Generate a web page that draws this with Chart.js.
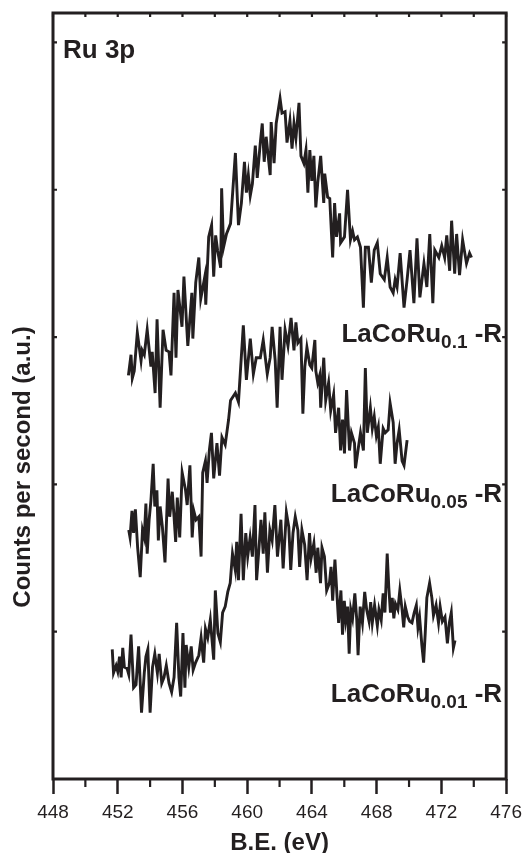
<!DOCTYPE html>
<html>
<head>
<meta charset="utf-8">
<script src="https://cdn.jsdelivr.net/npm/chart.js@4.4.1/dist/chart.umd.min.js"></script>
<style>
  html, body { margin: 0; padding: 0; background: #fff; }
  #wrap { width: 529px; height: 853px; position: relative; }
</style>
</head>
<body>
<div id="wrap"><canvas id="xps"></canvas></div>
<script>
// Ru 3p region, three reduced samples, offset vertically (a.u.)
const xMajorTicks = [448, 452, 456, 460, 464, 468, 472, 476];
const xMinorTicks = [450, 454, 458, 462, 466, 470, 474];
const yTicks = [1, 2, 3, 4, 5];

const sampleBase = 'LaCoRu';
const sampleRu = ['0.1', '0.05', '0.01'];
const sampleSuffix = ' -R';

// LaCoRu0.1-R
const ru01E = [
  452.66, 452.82, 452.90, 453.02, 453.21, 453.44, 453.51, 453.64, 453.82, 454.05,
  454.13, 454.31, 454.43, 454.62, 454.80, 454.99, 455.17, 455.29, 455.48, 455.60,
  455.72, 455.97, 456.09, 456.33, 456.58, 456.64, 456.82, 457.01, 457.13, 457.38,
  457.44, 457.62, 457.80, 457.93, 458.05, 458.17, 458.36, 458.42, 458.54, 458.72,
  458.97, 459.27, 459.46, 459.64, 459.83, 459.95, 460.07, 460.19, 460.32, 460.50,
  460.62, 460.81, 460.93, 461.05, 461.17, 461.42, 461.48, 461.66, 461.79, 462.03,
  462.15, 462.34, 462.46, 462.64, 462.77, 462.89, 463.01, 463.20, 463.32, 463.50,
  463.63, 463.75, 463.87, 463.99, 464.12, 464.24, 464.36, 464.54, 464.73, 464.79,
  464.97, 465.10, 465.28, 465.40, 465.52, 465.71, 465.77, 466.01, 466.20, 466.38,
  466.51, 466.63, 466.81, 467.00, 467.18, 467.30, 467.49, 467.67, 467.85, 468.04,
  468.22, 468.47, 468.65, 468.83, 469.02, 469.14, 469.26, 469.45, 469.69, 469.88,
  470.06, 470.30, 470.49, 470.67, 470.92, 471.10, 471.28, 471.47, 471.59, 471.84,
  472.02, 472.20, 472.33, 472.51, 472.63, 472.82, 472.94, 473.12, 473.31, 473.55,
  473.74, 473.86
];
const ru01Counts = [
  2.74, 2.88, 2.72, 2.77, 3.03, 2.84, 2.91, 2.88, 3.05, 2.80,
  2.90, 2.62, 3.12, 2.52, 3.05, 2.91, 2.90, 2.74, 3.30, 2.86,
  3.32, 3.07, 3.41, 2.94, 3.30, 2.99, 3.37, 3.54, 3.26, 3.41,
  3.22, 3.68, 3.76, 3.41, 3.69, 3.59, 3.47, 4.01, 3.61, 3.70,
  3.77, 4.25, 3.76, 3.91, 4.19, 3.98, 4.10, 3.96, 4.04, 4.30,
  4.08, 4.32, 4.45, 4.19, 4.36, 4.10, 4.46, 4.18, 4.45, 4.62,
  4.52, 4.53, 4.32, 4.47, 4.28, 4.45, 4.35, 4.59, 4.23, 4.18,
  4.27, 3.98, 4.27, 4.06, 4.23, 3.88, 4.05, 4.23, 3.91, 4.11,
  3.95, 3.94, 3.54, 3.91, 3.68, 3.84, 3.64, 3.68, 4.00, 3.66,
  3.72, 3.66, 3.68, 3.61, 3.20, 3.61, 3.61, 3.37, 3.59, 3.64,
  3.43, 3.39, 3.54, 3.34, 3.30, 3.39, 3.34, 3.57, 3.20, 3.39,
  3.59, 3.23, 3.67, 3.27, 3.50, 3.34, 3.70, 3.23, 3.59, 3.54,
  3.62, 3.54, 3.69, 3.45, 3.79, 3.43, 3.70, 3.42, 3.66, 3.50,
  3.57, 3.54
];

// LaCoRu0.05-R
const ru005E = [
  452.68, 452.76, 452.88, 452.98, 453.09, 453.23, 453.39, 453.53, 453.64, 453.74,
  453.82, 453.94, 454.05, 454.19, 454.29, 454.42, 454.51, 454.62, 454.76, 454.92,
  455.11, 455.21, 455.37, 455.48, 455.58, 455.68, 455.83, 455.98, 456.19, 456.29,
  456.46, 456.60, 456.70, 456.84, 457.01, 457.15, 457.25, 457.42, 457.52, 457.66,
  457.79, 457.93, 458.13, 458.29, 458.44, 458.64, 458.85, 458.97, 459.27, 459.46,
  459.76, 459.95, 460.19, 460.38, 460.56, 460.81, 460.99, 461.24, 461.42, 461.54,
  461.73, 461.85, 462.03, 462.15, 462.34, 462.52, 462.71, 462.89, 463.01, 463.13,
  463.32, 463.44, 463.56, 463.69, 463.87, 463.99, 464.18, 464.24, 464.36, 464.48,
  464.54, 464.73, 464.85, 465.03, 465.16, 465.34, 465.46, 465.65, 465.77, 465.89,
  466.01, 466.14, 466.32, 466.44, 466.63, 466.69, 466.87, 467.00, 467.18, 467.30,
  467.42, 467.61, 467.73, 467.85, 467.98, 468.10, 468.22, 468.40, 468.53, 468.71,
  468.83, 469.02, 469.14, 469.26, 469.39, 469.57, 469.69, 469.88
];
const ru005Counts = [
  1.69, 1.64, 1.82, 1.67, 1.83, 1.57, 1.37, 1.69, 1.64, 1.87,
  1.53, 1.76, 1.89, 2.14, 1.85, 1.96, 1.62, 1.85, 1.71, 1.47,
  2.04, 1.78, 1.95, 1.78, 1.61, 1.91, 1.64, 2.08, 1.96, 1.86,
  2.13, 1.64, 1.82, 1.76, 1.78, 1.51, 2.08, 2.16, 2.01, 2.23,
  2.35, 2.04, 2.28, 2.06, 2.32, 2.27, 2.44, 2.57, 2.62, 2.56,
  3.08, 2.71, 2.99, 2.75, 2.86, 2.86, 2.98, 2.75, 2.86, 3.07,
  2.84, 2.52, 3.07, 2.71, 3.05, 2.94, 3.13, 2.91, 3.10, 2.96,
  2.99, 2.48, 2.80, 2.93, 2.81, 2.79, 2.98, 2.77, 2.69, 2.74,
  2.52, 2.86, 2.57, 2.69, 2.50, 2.61, 2.35, 2.52, 2.23, 2.44,
  2.21, 2.64, 2.23, 2.35, 2.28, 2.11, 2.25, 2.35, 2.23, 2.79,
  2.35, 2.52, 2.38, 2.46, 2.33, 2.39, 2.14, 2.38, 2.35, 2.37,
  2.55, 2.42, 2.14, 2.28, 2.37, 2.16, 2.13, 2.30
];

// LaCoRu0.01-R
const ru001E = [
  451.66, 451.74, 451.90, 452.00, 452.11, 452.21, 452.31, 452.41, 452.58, 452.68,
  452.82, 452.98, 453.13, 453.29, 453.47, 453.64, 453.74, 453.86, 454.00, 454.15,
  454.29, 454.45, 454.56, 454.72, 454.86, 455.00, 455.17, 455.33, 455.48, 455.64,
  455.78, 455.89, 456.03, 456.15, 456.23, 456.39, 456.54, 456.66, 456.81, 457.01,
  457.15, 457.31, 457.42, 457.56, 457.72, 457.93, 458.03, 458.19, 458.34, 458.48,
  458.64, 458.80, 458.95, 459.09, 459.26, 459.35, 459.46, 459.62, 459.76, 459.91,
  460.03, 460.18, 460.32, 460.48, 460.58, 460.73, 460.85, 460.99, 461.09, 461.25,
  461.40, 461.54, 461.71, 461.87, 462.08, 462.22, 462.42, 462.57, 462.69, 462.83,
  462.97, 463.13, 463.24, 463.38, 463.55, 463.70, 463.85, 463.95, 464.12, 464.26,
  464.36, 464.53, 464.62, 464.77, 464.91, 465.08, 465.18, 465.28, 465.42, 465.54,
  465.65, 465.79, 465.89, 466.00, 466.09, 466.20, 466.30, 466.40, 466.51, 466.65,
  466.77, 466.85, 466.98, 467.12, 467.26, 467.38, 467.53, 467.63, 467.73, 467.87,
  468.04, 468.14, 468.28, 468.40, 468.51, 468.65, 468.75, 468.85, 468.96, 469.06,
  469.16, 469.31, 469.43, 469.57, 469.67, 469.77, 469.92, 470.04, 470.18, 470.32,
  470.45, 470.55, 470.65, 470.79, 470.90, 471.00, 471.10, 471.27, 471.41, 471.51,
  471.67, 471.82, 471.92, 472.06, 472.22, 472.37, 472.49, 472.61, 472.74, 472.84
];
const ru001Counts = [
  0.88, 0.72, 0.77, 0.73, 0.83, 0.69, 0.89, 0.76, 0.75, 0.71,
  0.98, 0.62, 0.64, 0.90, 0.45, 0.72, 0.83, 0.88, 0.45, 0.76,
  0.85, 0.72, 0.85, 0.65, 0.69, 0.77, 0.65, 0.59, 0.69, 1.06,
  0.69, 0.56, 0.99, 0.62, 0.91, 0.76, 0.90, 0.74, 0.79, 0.84,
  0.96, 0.79, 1.02, 0.96, 1.08, 0.81, 1.28, 0.99, 0.93, 1.13,
  1.17, 1.27, 1.33, 1.53, 1.42, 1.61, 1.35, 1.80, 1.35, 1.67,
  1.51, 1.64, 1.51, 1.86, 1.35, 1.57, 1.76, 1.53, 1.81, 1.40,
  1.69, 1.62, 1.86, 1.51, 1.76, 1.43, 1.81, 1.71, 1.42, 1.67,
  1.78, 1.69, 1.44, 1.69, 1.59, 1.35, 1.67, 1.50, 1.60, 1.40,
  1.57, 1.33, 1.57, 1.51, 1.28, 1.33, 1.44, 1.21, 1.49, 1.26,
  1.06, 1.28, 0.98, 1.21, 1.08, 1.17, 0.85, 1.15, 1.09, 1.26,
  1.08, 0.84, 1.17, 1.06, 1.27, 1.15, 1.07, 1.20, 1.06, 1.18,
  1.04, 1.15, 1.08, 1.26, 1.13, 1.53, 1.30, 1.13, 1.23, 1.09,
  1.19, 1.15, 1.28, 1.15, 1.03, 1.17, 1.10, 1.07, 1.06, 1.13,
  1.18, 1.03, 1.10, 0.91, 0.79, 0.99, 1.23, 1.33, 1.23, 1.11,
  1.18, 1.06, 1.17, 1.07, 1.10, 0.92, 1.06, 1.13, 0.89, 0.94
];

const INK = '#231f20';
const FONT = '"Liberation Sans", Arial, Helvetica, sans-serif';

function toPoints(xs, ys) {
  return xs.map((e, i) => ({ x: e, y: ys[i] }));
}

function spectrum(xs, ys) {
  return {
    data: toPoints(xs, ys),
    borderColor: INK,
    borderWidth: 2.9,
    pointRadius: 0,
    fill: false,
    tension: 0,
  };
}

function drawSampleLabel(ctx, right, base, sub) {
  const big = `bold 26px ${FONT}`;
  const small = `bold 19px ${FONT}`;
  ctx.font = big;
  const w1 = ctx.measureText(sampleBase).width;
  const w3 = ctx.measureText(sampleSuffix).width;
  ctx.font = small;
  const w2 = ctx.measureText(sub).width;
  let x = right - w1 - w2 - w3;
  ctx.font = big;
  ctx.fillText(sampleBase, x, base);
  x += w1;
  ctx.font = small;
  ctx.fillText(sub, x, base + 6);
  x += w2;
  ctx.font = big;
  ctx.fillText(sampleSuffix, x, base);
}

// frame, small inner ticks, minor ticks, annotations
const xpsDecor = {
  id: 'xpsDecor',
  afterDraw(chart) {
    const { ctx, chartArea: a, scales: { x, y } } = chart;
    ctx.save();
    ctx.strokeStyle = INK;
    ctx.lineWidth = 3;
    ctx.strokeRect(a.left, a.top, a.right - a.left, a.bottom - a.top);

    ctx.lineWidth = 2.2;
    ctx.beginPath();
    xMinorTicks.forEach(v => {
      const px = x.getPixelForValue(v);
      ctx.moveTo(px, a.bottom);
      ctx.lineTo(px, a.bottom + 8);
    });
    xMajorTicks.concat(xMinorTicks).forEach(v => {
      const px = x.getPixelForValue(v);
      ctx.moveTo(px, a.top);
      ctx.lineTo(px, a.top + 4);
    });
    yTicks.forEach(v => {
      const py = y.getPixelForValue(v);
      ctx.moveTo(a.left, py);
      ctx.lineTo(a.left + 4, py);
      ctx.moveTo(a.right - 4, py);
      ctx.lineTo(a.right, py);
    });
    ctx.stroke();

    ctx.fillStyle = INK;
    ctx.textAlign = 'left';
    ctx.textBaseline = 'alphabetic';
    ctx.font = `bold 26px ${FONT}`;
    ctx.fillText('Ru 3p', a.left + 10, a.top + 45);

    const baselines = [342, 502, 702];
    sampleRu.forEach((sub, i) => drawSampleLabel(ctx, a.right - 4, baselines[i], sub));

    // y title, sits a bit below the middle of the frame as in the figure
    ctx.translate(23, 467);
    ctx.rotate(-Math.PI / 2);
    ctx.textAlign = 'center';
    ctx.textBaseline = 'middle';
    ctx.font = `bold 24px ${FONT}`;
    ctx.fillText('Counts per second (a.u.)', 0, 0);
    ctx.restore();
  }
};

new Chart(document.getElementById('xps'), {
  type: 'line',
  data: {
    datasets: [
      spectrum(ru01E, ru01Counts),
      spectrum(ru005E, ru005Counts),
      spectrum(ru001E, ru001Counts),
    ],
  },
  options: {
    responsive: true,
    maintainAspectRatio: false,
    animation: false,
    layout: { padding: { top: 13, right: 19, left: 0, bottom: 0 } },
    scales: {
      x: {
        type: 'linear',
        min: 448,
        max: 476,
        afterBuildTicks: s => { s.ticks = xMajorTicks.map(v => ({ value: v })); },
        afterFit: s => { s.height = 74; },
        ticks: {
          color: INK,
          font: { family: FONT, size: 19 },
          padding: 7,
          maxRotation: 0,
          autoSkip: false,
        },
        grid: {
          drawOnChartArea: false,
          drawTicks: true,
          tickLength: 15,
          tickWidth: 2.5,
          tickColor: INK,
        },
        border: { display: false },
        title: {
          display: true,
          text: 'B.E. (eV)',
          color: INK,
          font: { family: FONT, size: 24, weight: 'bold', lineHeight: 0.8 },
          padding: 0,
        },
      },
      y: {
        min: 0,
        max: 5.2,
        afterBuildTicks: s => { s.ticks = yTicks.map(v => ({ value: v })); },
        afterFit: s => { s.width = 53; },
        ticks: { display: false },
        grid: { display: false },
        border: { display: false },
      },
    },
    plugins: {
      legend: { display: false },
      tooltip: { enabled: false },
    },
  },
  plugins: [xpsDecor],
});
</script>
</body>
</html>
